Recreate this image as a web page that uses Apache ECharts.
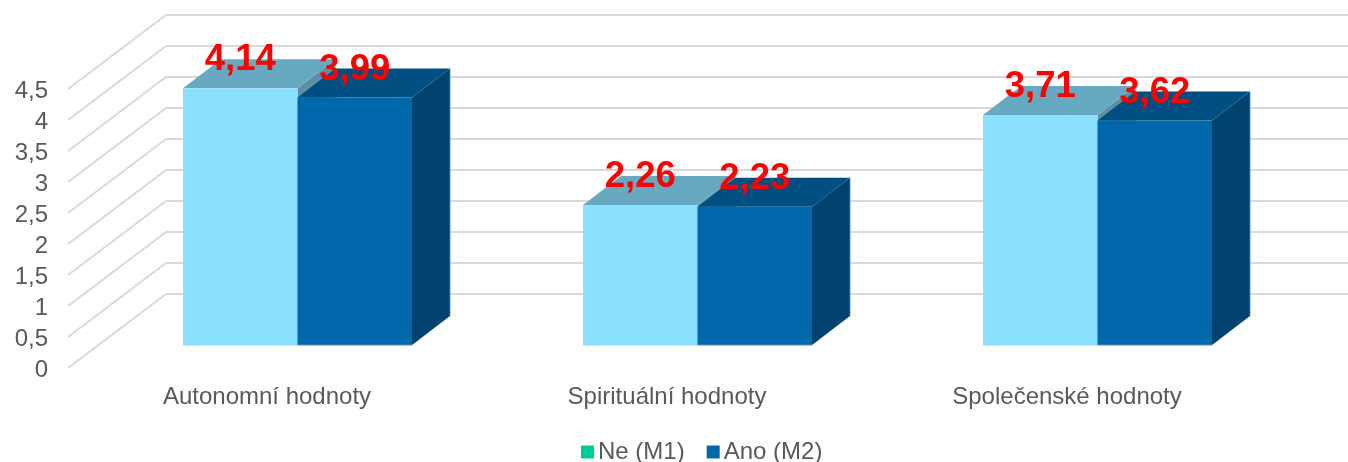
<!DOCTYPE html>
<html><head><meta charset="utf-8">
<style>html,body{margin:0;padding:0;background:#fff}#c{width:1348px;height:462px}</style>
<script src="https://cdn.jsdelivr.net/npm/echarts@6/dist/echarts.min.js"></script>
</head><body><div id="c"></div>
<script>
const categories = ['Autonomní hodnoty', 'Spirituální hodnoty', 'Společenské hodnoty'];
const ne = [4.14, 2.26, 3.71];
const ano = [3.99, 2.23, 3.62];
const yTicks = [0, 0.5, 1, 1.5, 2, 2.5, 3, 3.5, 4, 4.5];
const seriesNames = ['Ne (M1)', 'Ano (M2)'];

const FONT = '"Liberation Sans", Arial, sans-serif';
const WALL_DX = 98, WALL_DY = -74, WALL_INSET = 1;
const BAR_FORWARD = -23, BAR_DX = 38, BAR_DY = -29;
const BAR_W = 114.5, GROUP_SHIFT = 30.5;
const fmt = v => String(v).replace('.', ',');
const faces = [
  { legend: '#00CC99', front: '#8AE1FF', top: '#68A9C2', side: '#5F8FA3', edge: '#8AE1FF' },
  { legend: '#0068AB', front: '#0068AB', top: '#004F83', side: '#00426E', edge: '#4F93BE' }
];

const chart = echarts.init(document.getElementById('c'), null, { renderer: 'canvas' });

function gridRender(params, api) {
  const c = params.coordSys;
  const y = api.coord([0, api.value(0)])[1];
  const x0 = c.x + WALL_INSET, x1 = x0 + WALL_DX, y1 = y + WALL_DY;
  return { type: 'group', children: [
    { type: 'line', shape: { x1: x0, y1: y, x2: x1, y2: y1 }, style: { stroke: '#D9D9D9', lineWidth: 2 } },
    { type: 'line', shape: { x1: x1, y1: y1, x2: 1348, y2: y1 }, style: { stroke: '#D9D9D9', lineWidth: 2 } }
  ]};
}

function barRender(idx) {
  return function (params, api) {
    const cat = api.value(0), v = api.value(1);
    const p = api.coord([cat, v]);
    const base = api.coord([cat, 0])[1] + BAR_FORWARD;
    const topY = p[1] + BAR_FORWARD;
    const xL = p[0] + GROUP_SHIFT - BAR_W + idx * BAR_W;
    const xR = xL + BAR_W;
    const f = faces[idx];
    return { type: 'group', children: [
      { type: 'polygon', shape: { points: [[xR, base], [xR + BAR_DX, base + BAR_DY], [xR + BAR_DX, topY + BAR_DY], [xR, topY]] }, style: { fill: f.side } },
      { type: 'polygon', shape: { points: [[xL, topY], [xR, topY], [xR + BAR_DX, topY + BAR_DY], [xL + BAR_DX, topY + BAR_DY]] }, style: { fill: f.top } },
      { type: 'rect', shape: { x: xL, y: topY, width: BAR_W, height: base - topY }, style: { fill: f.front } },
      { type: 'line', shape: { x1: xL, y1: base, x2: xR, y2: base }, style: { stroke: f.edge, lineWidth: 1 } },
      { type: 'line', shape: { x1: xR + BAR_DX, y1: base + BAR_DY, x2: xR + BAR_DX, y2: topY + BAR_DY }, style: { stroke: f.edge, lineWidth: 0.8 } },
      { type: 'text', z2: 100, style: { x: (xL + xR) / 2, y: topY - 28, text: fmt(v), fill: '#FF0000', font: 'bold 36.5px ' + FONT, align: 'center', verticalAlign: 'middle' } }
    ]};
  };
}

const barData = arr => arr.map((v, i) => [i, v]);

chart.setOption({
  animation: false,
  backgroundColor: '#fff',
  grid: { left: 67, width: 1200, top: 89, height: 279, containLabel: false },
  legend: {
    data: seriesNames, left: 576, top: 435, icon: 'rect', itemWidth: 13, itemHeight: 13, itemGap: 22,
    textStyle: { color: '#595959', fontSize: 24, fontFamily: FONT, padding: [0, 0, 0, -1] }, selectedMode: false
  },
  xAxis: {
    type: 'category', data: categories,
    axisLine: { show: false }, axisTick: { show: false }, splitLine: { show: false },
    axisLabel: { color: '#595959', fontSize: 24, fontFamily: FONT, margin: 17 }
  },
  yAxis: {
    type: 'value', min: 0, max: 4.5, interval: 0.5,
    axisLine: { show: false }, axisTick: { show: false }, splitLine: { show: false },
    axisLabel: {
      color: '#595959', fontSize: 24, fontFamily: FONT, margin: 19,
      formatter: v => '{t|' + fmt(v) + '}',
      rich: { t: { color: '#595959', fontSize: 24, fontFamily: FONT, padding: [4, 0, 0, 0] } }
    }
  },
  series: [
    { type: 'custom', silent: true, coordinateSystem: 'cartesian2d', renderItem: gridRender,
      data: yTicks.map(t => [t]), encode: { x: -1, y: 0 }, z: 1 },
    { type: 'custom', name: seriesNames[0], coordinateSystem: 'cartesian2d', renderItem: barRender(0),
      itemStyle: { color: faces[0].legend }, data: barData(ne), encode: { x: 0, y: 1 }, z: 2 },
    { type: 'custom', name: seriesNames[1], coordinateSystem: 'cartesian2d', renderItem: barRender(1),
      itemStyle: { color: faces[1].legend }, data: barData(ano), encode: { x: 0, y: 1 }, z: 3 }
  ]
});
</script></body></html>
